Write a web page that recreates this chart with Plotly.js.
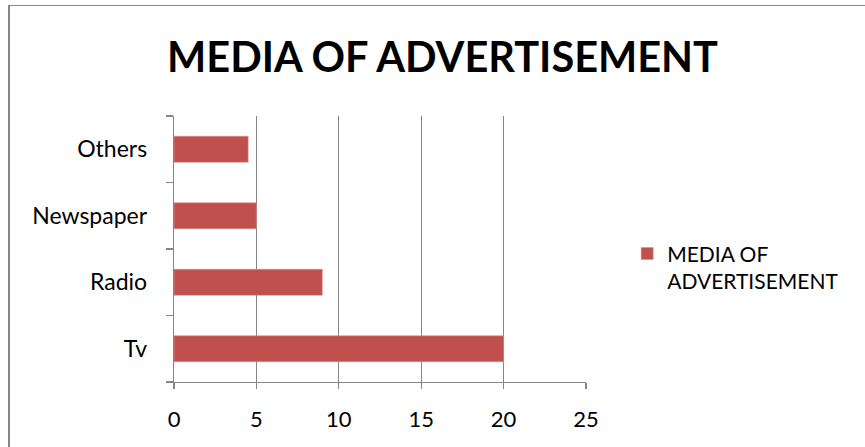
<!DOCTYPE html>
<html>
<head>
<meta charset="utf-8">
<script src="https://cdn.plot.ly/plotly-3.0.1.min.js"></script>
<style>
html,body{margin:0;padding:0;background:#fff;}
#wrap{position:relative;width:865px;height:447px;overflow:hidden;}
#chart{width:865px;height:447px;}
#frame{position:absolute;left:8px;top:5px;width:900px;height:500px;border-left:2px solid #868686;border-top:1px solid #868686;pointer-events:none;}
</style>
</head>
<body>
<div id="wrap"><div id="chart"></div><div id="frame"></div></div>
<script>
const categories = ["Tv", "Radio", "Newspaper", "Others"];
const values = [20, 9, 5, 4.5];
const seriesName = "MEDIA OF<br>ADVERTISEMENT";
const titleText = "MEDIA OF ADVERTISEMENT";
const xTicks = [0, 5, 10, 15, 20, 25];

const FONT = "Lato, 'Open Sans', sans-serif";
const GRID = "#868686";

const trace = {
  type: "bar",
  orientation: "h",
  x: values,
  y: categories,
  name: seriesName,
  marker: {color: "#C0504D", line: {color: "#D9928F", width: 0.6}},
  width: 0.39,
  showlegend: true,
  hoverinfo: "x+y"
};

const layout = {
  width: 865,
  height: 447,
  margin: {l: 174, r: 279, t: 116, b: 65},
  paper_bgcolor: "#fff",
  plot_bgcolor: "#fff",
  font: {family: FONT, color: "#000", size: 22},
  title: {
    text: "<b>" + titleText + "</b>",
    font: {family: FONT, size: 41.5, color: "#000"},
    x: 0.5116, xanchor: "center", xref: "container",
    y: 0.872, yanchor: "middle", yref: "container"
  },
  xaxis: {
    range: [0, 25],
    tickvals: xTicks,
    ticktext: xTicks.map(String),
    showgrid: true,
    gridcolor: GRID,
    gridwidth: 1.3,
    zeroline: false,
    showline: true,
    linecolor: GRID,
    linewidth: 1.3,
    ticks: "outside",
    ticklen: 6,
    tickcolor: GRID,
    tickwidth: 1.3,
    ticklabelstandoff: 11,
    tickfont: {family: FONT, size: 22, color: "#000"},
    fixedrange: true
  },
  yaxis: {
    type: "category",
    categoryorder: "array",
    categoryarray: categories,
    showgrid: false,
    zeroline: false,
    showline: true,
    linecolor: GRID,
    linewidth: 1.3,
    ticks: "outside",
    tickson: "boundaries",
    ticklen: 7,
    tickcolor: GRID,
    tickwidth: 1.3,
    ticklabelstandoff: 21,
    tickfont: {family: FONT, size: 23, color: "#000"},
    fixedrange: true
  },
  showlegend: true,
  legend: {
    x: 1.1, xanchor: "left",
    y: 0.559, yanchor: "top",
    valign: "top",
    font: {family: FONT, size: 21, color: "#000"},
    bgcolor: "rgba(0,0,0,0)"
  }
};

Plotly.newPlot("chart", [trace], layout, {displayModeBar: false, staticPlot: true});
</script>
</body>
</html>
